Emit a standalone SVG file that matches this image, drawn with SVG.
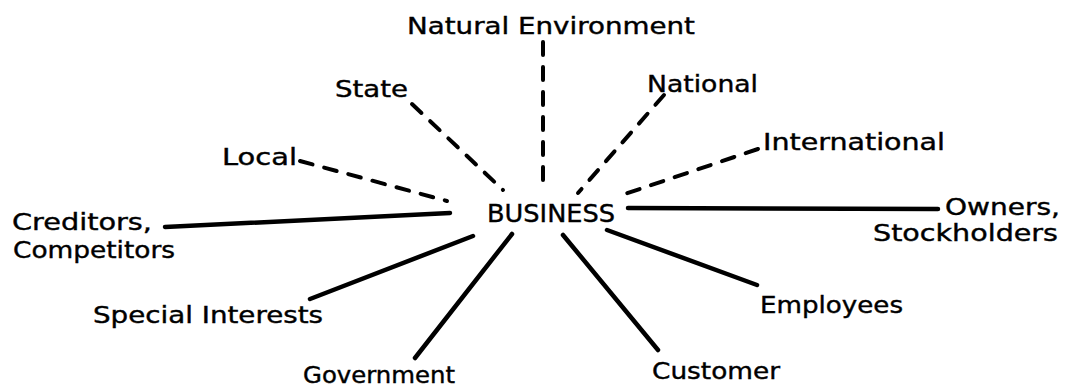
<svg xmlns="http://www.w3.org/2000/svg" width="1065" height="389" viewBox="0 0 1065 389">
<style>
.t{font-family:"DejaVu Sans","Liberation Sans",sans-serif;font-size:23px;fill:#000;stroke:#000;stroke-width:0.4}
.b{font-size:25px}
.s{stroke:#000;stroke-width:4.5;stroke-linecap:round;fill:none}
.d{stroke:#000;stroke-width:4;stroke-linecap:round;fill:none;stroke-dasharray:13 12}
</style>
<rect width="1065" height="389" fill="#fff"/>
<g id="connectors">
<line class="d" x1="543" y1="42" x2="543" y2="190"/>
<line class="d" x1="412" y1="104" x2="503" y2="190"/>
<line class="d" x1="664" y1="95" x2="578" y2="193"/>
<line class="d" x1="758" y1="149" x2="622" y2="195"/>
<line class="d" x1="300" y1="161" x2="447" y2="201"/>
<line class="s" x1="165" y1="227" x2="450" y2="213"/>
<line class="s" x1="628" y1="208" x2="938" y2="209"/>
<line class="s" x1="607" y1="230" x2="757" y2="285"/>
<line class="s" x1="563" y1="235" x2="658" y2="350"/>
<line class="s" x1="512" y1="234" x2="415" y2="358"/>
<line class="s" x1="473" y1="236" x2="310" y2="299"/>
</g>
<g id="business"><text class="t b" x="487" y="222" textLength="128" lengthAdjust="spacingAndGlyphs">BUSINESS</text></g>
<g id="natural-environment"><text class="t" x="407" y="34" textLength="288" lengthAdjust="spacingAndGlyphs">Natural Environment</text></g>
<g id="state"><text class="t" x="335" y="97" textLength="73" lengthAdjust="spacingAndGlyphs">State</text></g>
<g id="national"><text class="t" x="647" y="92" textLength="111" lengthAdjust="spacingAndGlyphs">National</text></g>
<g id="international"><text class="t" x="763" y="150" textLength="182" lengthAdjust="spacingAndGlyphs">International</text></g>
<g id="local"><text class="t" x="222" y="165" textLength="75" lengthAdjust="spacingAndGlyphs">Local</text></g>
<g id="creditors-competitors">
<text class="t" x="12" y="230" textLength="140" lengthAdjust="spacingAndGlyphs">Creditors,</text>
<text class="t" x="13" y="258" textLength="162" lengthAdjust="spacingAndGlyphs">Competitors</text>
</g>
<g id="owners-stockholders">
<text class="t" x="945" y="215" textLength="115" lengthAdjust="spacingAndGlyphs">Owners,</text>
<text class="t" x="873" y="241" textLength="185" lengthAdjust="spacingAndGlyphs">Stockholders</text>
</g>
<g id="employees"><text class="t" x="760" y="313" textLength="143" lengthAdjust="spacingAndGlyphs">Employees</text></g>
<g id="special-interests"><text class="t" x="93" y="323" textLength="230" lengthAdjust="spacingAndGlyphs">Special Interests</text></g>
<g id="government"><text class="t" x="303" y="383" textLength="152" lengthAdjust="spacingAndGlyphs">Government</text></g>
<g id="customer"><text class="t" x="652" y="379" textLength="128" lengthAdjust="spacingAndGlyphs">Customer</text></g>
</svg>
